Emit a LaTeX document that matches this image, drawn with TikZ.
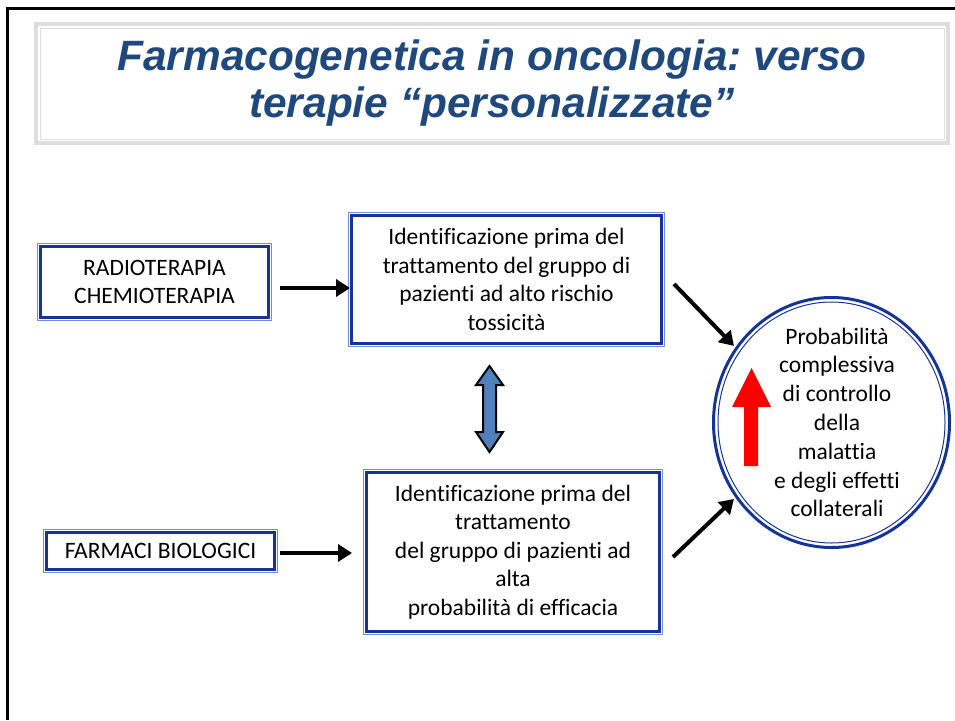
\documentclass[tikz,border=0pt]{standalone}
\usepackage{fontspec}
\setmainfont{Carlito}[Ligatures=NoCommon]
\newfontfamily\titlefont{Liberation Sans}
\usetikzlibrary{arrows.meta,positioning,calc,shapes.geometric}
\frenchspacing

\definecolor{titleblue}{RGB}{31,73,125}
\definecolor{boxblue}{RGB}{20,52,152}
\definecolor{lineblue}{RGB}{112,142,210}
\definecolor{arrowblue}{RGB}{79,129,189}
\definecolor{bandgray}{RGB}{222,222,222}

\tikzset{every picture/.style={line width=0.75pt}}
\tikzset{
	bluebox/.style={draw=boxblue, line width=3pt, fill=white, inner sep=0pt,
		preaction={draw=lineblue, line width=7pt},
		preaction={draw=white, line width=5pt},
		align=center, font=\fontsize{23.5}{28.5}\selectfont},
	blkarrow/.style={line width=4pt, -{Triangle[length=14pt,width=17pt]}},
}

\begin{document}
\begin{tikzpicture}[x=1pt,y=-1pt]
	\useasboundingbox (0,0) rectangle (955,720);

	%Straight Lines [page frame]
	\draw [line width=2.5pt]  (7.5,720) -- (7.5,8.5) -- (955,8.5) ;

	% Title Node
	\node [draw=bandgray, line width=1pt, fill=white, inner sep=0pt,
		preaction={draw=bandgray, line width=12pt},
		preaction={draw=white, line width=4pt},
		minimum width=904pt, minimum height=111pt,
		align=center, text=titleblue,
		font=\titlefont\bfseries\itshape\fontsize{42.4}{47}\selectfont]
		(title) at (492,83.5) {Farmacogenetica in oncologia: verso\\terapie “personalizzate”};

	% Box Nodes
	\node [bluebox, minimum width=228pt, minimum height=71pt] (radio) at (154.5,282) {RADIOTERAPIA\\CHEMIOTERAPIA};
	\node [bluebox, minimum width=310pt, minimum height=128pt] (tox) at (506.5,279.5) {Identificazione prima del\\trattamento del gruppo di\\pazienti ad alto rischio\\tossicità};
	\node [bluebox, minimum width=228pt, minimum height=37pt] (farm) at (160.5,551) {FARMACI BIOLOGICI};
	\node [bluebox, minimum width=293pt, minimum height=159pt] (eff) at (513,552) {Identificazione prima del\\trattamento\\del gruppo di pazienti ad\\alta\\probabilità di efficacia};

	%Shape: Ellipse
	\node [ellipse, draw=boxblue, line width=3pt, fill=white, inner sep=0pt,
		minimum width=236pt, minimum height=250pt] (prob) at (831.5,422.5) {};
	\draw [boxblue, line width=1pt] (prob.center) ellipse [x radius=113.5, y radius=120.5] ;
	% Text Node
	\node [align=center, font=\fontsize{23.5}{28.8}\selectfont] (probtxt) at ([xshift=5.5pt]prob.center)
		{Probabilità\\complessiva\\di controllo\\della\\malattia\\e degli effetti\\collaterali};

	%Shape: Up Arrow
	\draw [draw=none, fill=red] (744,466) -- (744,407) -- (732,407) -- (751.5,368) -- (771,407) -- (758,407) -- (758,466) -- cycle ;
	%Shape: Up-Down Arrow
	\draw [fill=arrowblue, line width=2pt, line join=miter] (483,385) -- (476,385) -- (489.5,366) -- (503,385) -- (496,385) -- (496,432) -- (503,432) -- (489.5,452) -- (476,432) -- (483,432) -- cycle ;

	%Straight Lines
	\draw [blkarrow]  ([shift={(10,6)}]radio.east) -- ([yshift=-6pt]radio.east -| tox.west) ;
	\draw [blkarrow]  ([shift={(4,2)}]farm.east) -- ([shift={(-13,2)}]farm.east -| eff.west) ;
	\draw [blkarrow, shorten >=2pt]  ([shift={(11,4.5)}]tox.east) -- (prob.142) ;
	\draw [blkarrow, shorten >=2pt]  ([shift={(12,5)}]eff.east) -- (prob.218) ;

\end{tikzpicture}
\end{document}
